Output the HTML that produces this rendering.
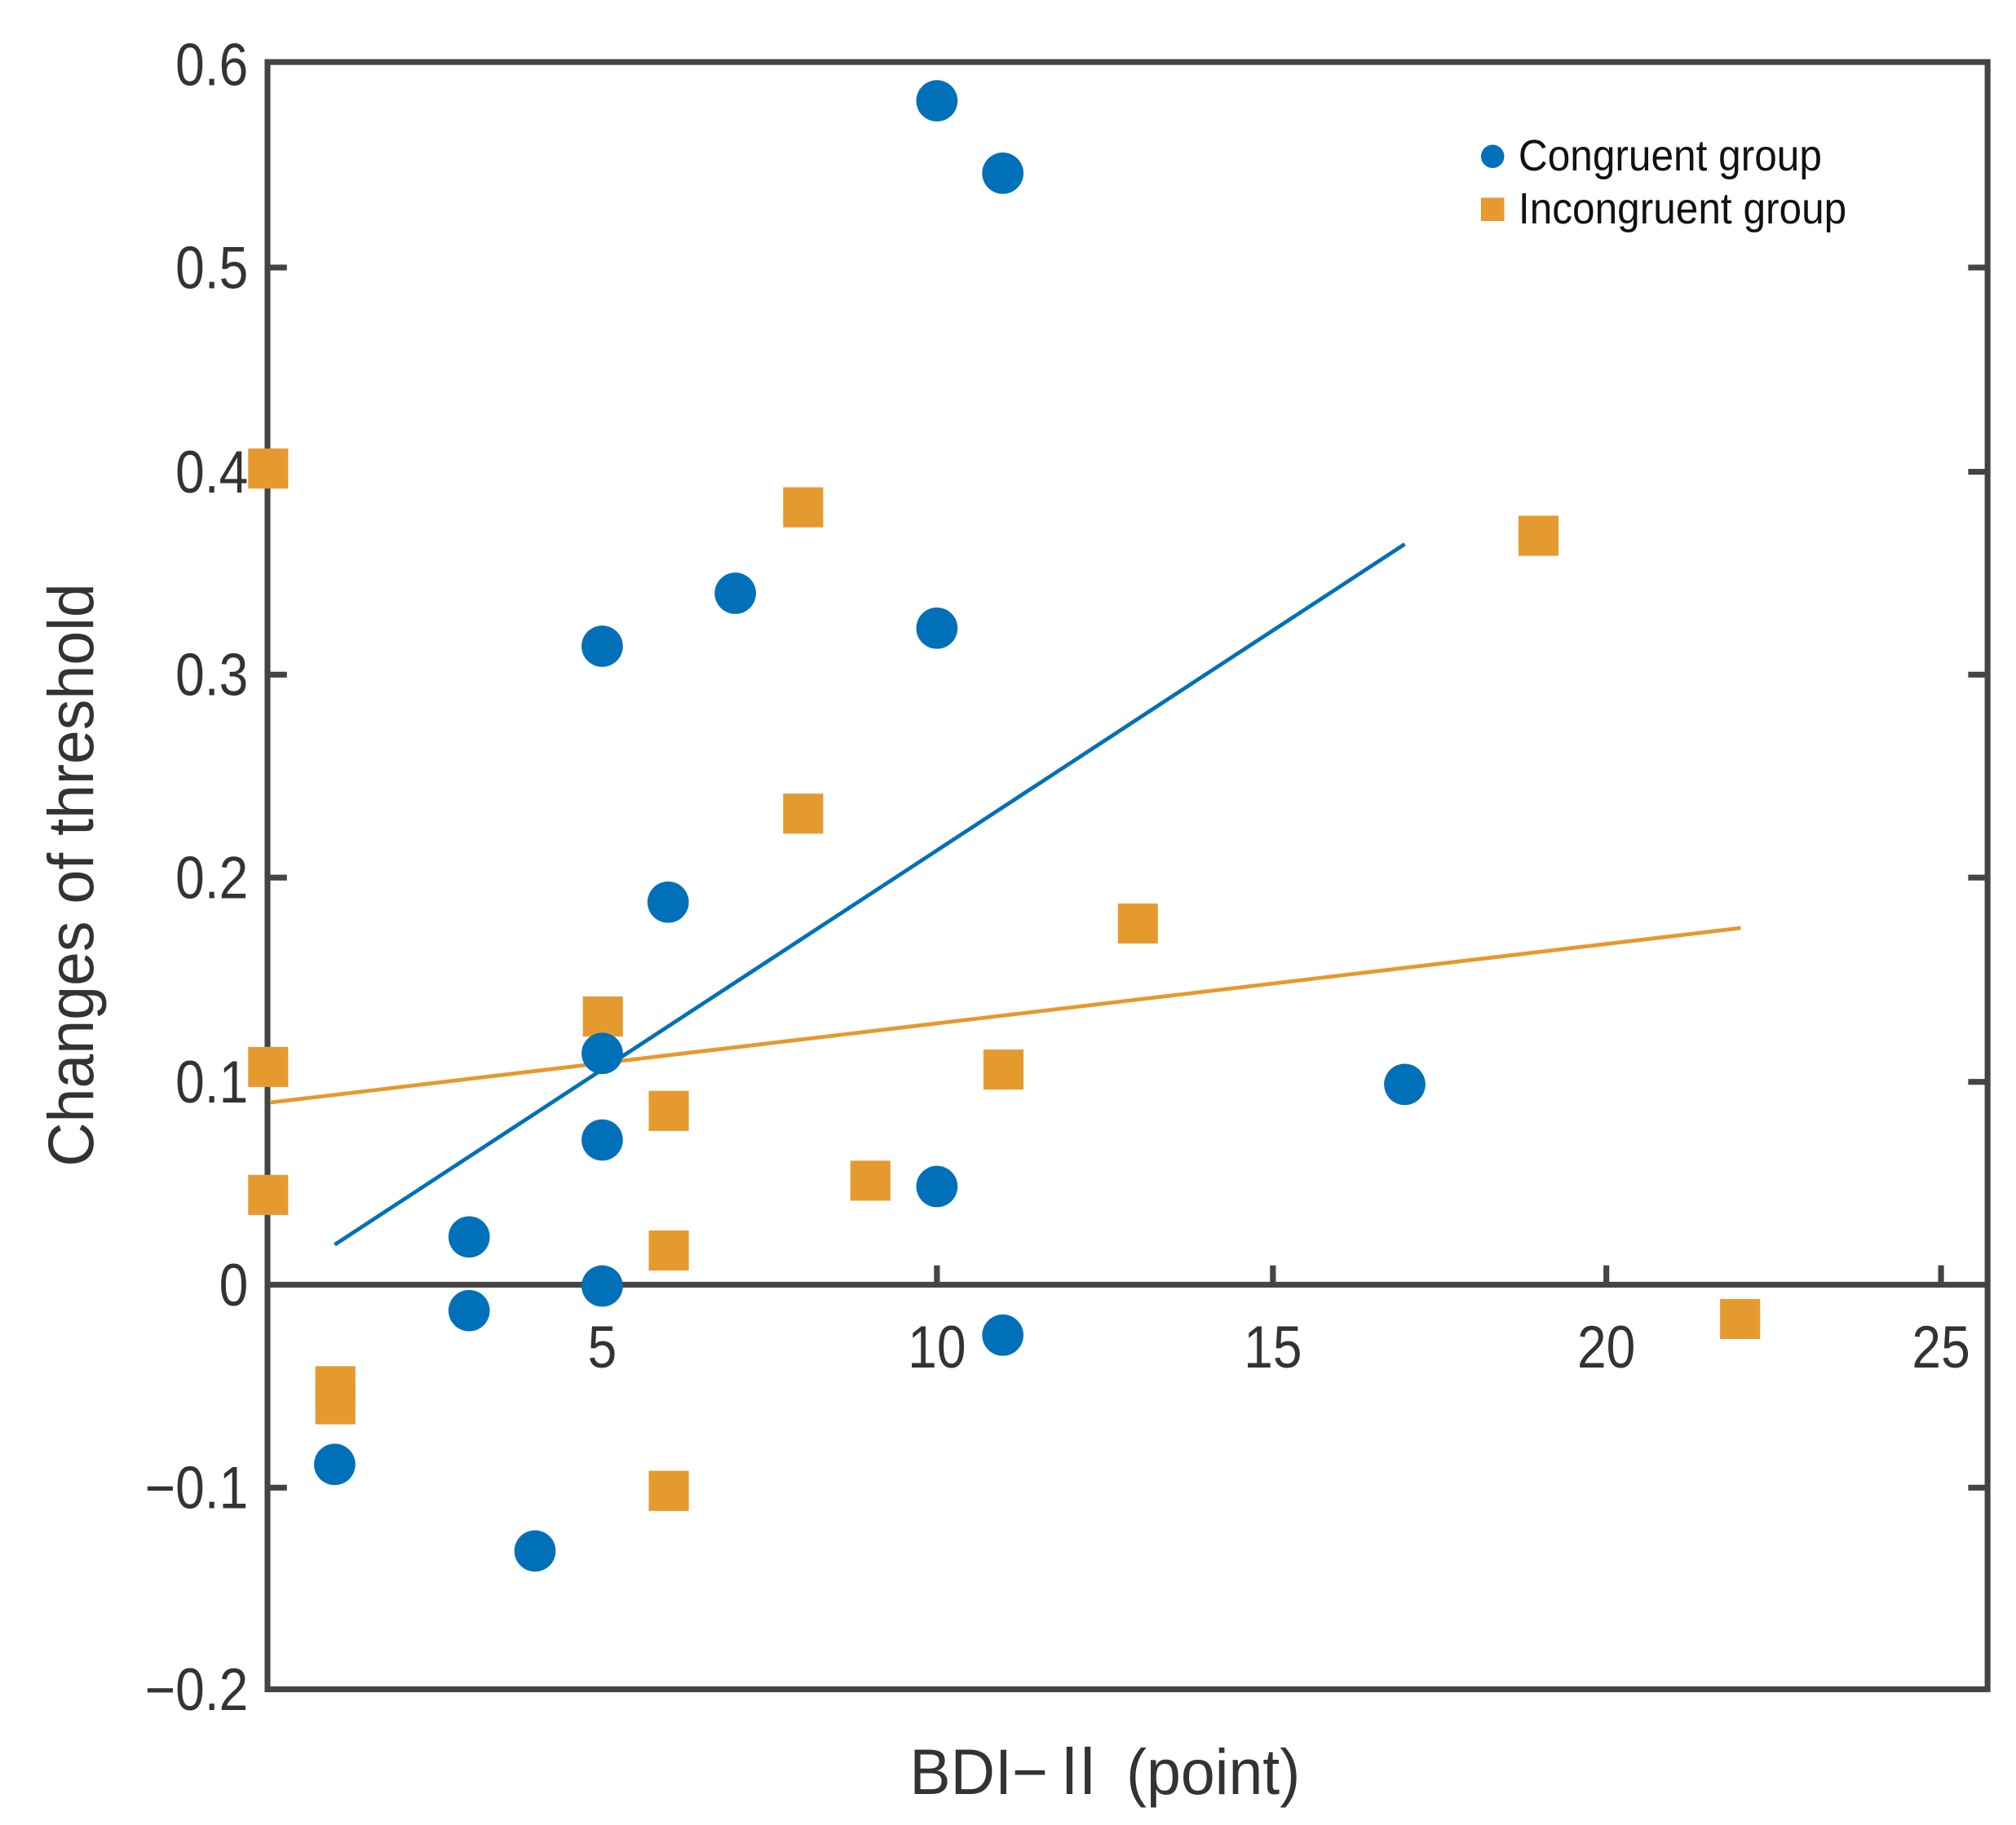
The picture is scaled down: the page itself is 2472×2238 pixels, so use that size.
<!DOCTYPE html>
<html><head><meta charset="utf-8"><style>
html,body{margin:0;padding:0;background:#fff;}
svg{display:block;}
text{font-family:"Liberation Sans","Noto Sans CJK JP",sans-serif;fill:#333;}
</style></head><body>
<svg width="2472" height="2238" viewBox="0 0 1560 1412" preserveAspectRatio="none" xmlns="http://www.w3.org/2000/svg">
<rect width="1560" height="1412" fill="#fff"/>
<rect x="207" y="48" width="1331" height="1259" fill="none" stroke="#444" stroke-width="4.5"/>
<line x1="207" y1="994" x2="1538" y2="994" stroke="#444" stroke-width="4.5"/>
<g stroke="#444" stroke-width="4.5">
<line x1="207" y1="1151" x2="222" y2="1151"/>
<line x1="1523" y1="207" x2="1538" y2="207"/>
<line x1="1523" y1="365" x2="1538" y2="365"/>
<line x1="1523" y1="522" x2="1538" y2="522"/>
<line x1="1523" y1="679" x2="1538" y2="679"/>
<line x1="1523" y1="837" x2="1538" y2="837"/>
<line x1="1523" y1="1151" x2="1538" y2="1151"/>
<line x1="207" y1="207" x2="222" y2="207"/>
<line x1="207" y1="522" x2="222" y2="522"/>
<line x1="207" y1="679" x2="222" y2="679"/>
<line x1="466" y1="979" x2="466" y2="994"/>
<line x1="725" y1="979" x2="725" y2="994"/>
<line x1="985" y1="979" x2="985" y2="994"/>
<line x1="1243" y1="979" x2="1243" y2="994"/>
<line x1="1502" y1="979" x2="1502" y2="994"/>
</g>
<g font-size="46" text-anchor="end" transform="translate(192,0) scale(0.88,1)">
<text x="0" y="66">0.6</text>
<text x="0" y="223">0.5</text>
<text x="0" y="381">0.4</text>
<text x="0" y="538">0.3</text>
<text x="0" y="695">0.2</text>
<text x="0" y="853">0.1</text>
<text x="0" y="1010">0</text>
<text x="0" y="1167">−0.1</text>
<text x="0" y="1323">−0.2</text>
</g>
<g font-size="46" text-anchor="middle">
<text transform="translate(466,1058) scale(0.88,1)">5</text>
<text transform="translate(725,1058) scale(0.88,1)">10</text>
<text transform="translate(985,1058) scale(0.88,1)">15</text>
<text transform="translate(1243,1058) scale(0.88,1)">20</text>
<text transform="translate(1502,1058) scale(0.88,1)">25</text>
</g>
<text transform="translate(72,677) rotate(-90) scale(0.95,1)" font-size="50" text-anchor="middle">Changes of threshold</text>
<text transform="translate(855,1388) scale(0.95,1)" font-size="50" text-anchor="middle">BDI−Ⅱ (point)</text>
<line x1="259" y1="963" x2="1087" y2="421" stroke="#0070b8" stroke-width="3"/>
<line x1="209" y1="853" x2="1347" y2="718" stroke="#e8982c" stroke-width="3"/>
<g fill="#e59a30">
<rect x="192" y="347" width="31" height="31"/>
<rect x="606" y="377" width="31" height="31"/>
<rect x="1175" y="399" width="31" height="31"/>
<rect x="606" y="614" width="31" height="31"/>
<rect x="865" y="699" width="31" height="31"/>
<rect x="451" y="771" width="31" height="31"/>
<rect x="192" y="810" width="31" height="31"/>
<rect x="761" y="812" width="31" height="31"/>
<rect x="502" y="844" width="31" height="31"/>
<rect x="658" y="898" width="31" height="31"/>
<rect x="192" y="909" width="31" height="31"/>
<rect x="502" y="952" width="31" height="31"/>
<rect x="1331" y="1005" width="31" height="31"/>
<rect x="244" y="1057" width="31" height="31"/>
<rect x="244" y="1071" width="31" height="31"/>
<rect x="502" y="1138" width="31" height="31"/>
</g>
<g fill="#0070b8">
<circle cx="725" cy="78" r="16"/>
<circle cx="776" cy="134" r="16"/>
<circle cx="569" cy="459" r="16"/>
<circle cx="466" cy="500" r="16"/>
<circle cx="725" cy="486" r="16"/>
<circle cx="517" cy="698" r="16"/>
<circle cx="466" cy="815" r="16"/>
<circle cx="466" cy="882" r="16"/>
<circle cx="725" cy="918" r="16"/>
<circle cx="1087" cy="839" r="16"/>
<circle cx="363" cy="957" r="16"/>
<circle cx="363" cy="1014" r="16"/>
<circle cx="466" cy="995" r="16"/>
<circle cx="776" cy="1033" r="16"/>
<circle cx="259" cy="1133" r="16"/>
<circle cx="414" cy="1200" r="16"/>
</g>
<circle cx="1155" cy="121" r="9" fill="#0070b8"/>
<rect x="1146" y="153" width="18" height="18" fill="#e59a30"/>
<g font-size="34">
<text transform="translate(1175,132) scale(0.92,1)" style="fill:#111">Congruent group</text>
<text transform="translate(1175,173) scale(0.92,1)" style="fill:#111">Incongruent group</text>
</g>
</svg>
</body></html>
